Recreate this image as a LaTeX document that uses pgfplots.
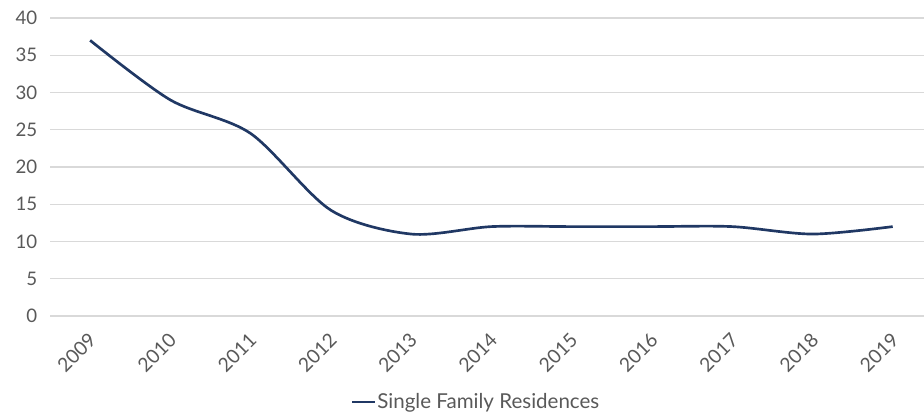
\documentclass[border=0pt]{standalone}
\usepackage{pgfplots}
\pgfplotsset{compat=1.18}
\usepackage{fontspec}
\setmainfont{Lato}
\definecolor{navy}{HTML}{203864}
\definecolor{txt}{HTML}{595959}
\definecolor{gridc}{HTML}{D9D9D9}
\begin{document}
\begin{tikzpicture}
\path[use as bounding box] (0,0) rectangle (693pt,311.25pt);
\begin{axis}[
    at={(37.5pt,74.25pt)}, anchor=south west,
    scale only axis,
    width=655.5pt, height=223.5pt,
    xmin=-0.5, xmax=10.39,
    ymin=0, ymax=40,
    ytick={0,5,...,40},
    xtick={0,...,10},
    xticklabels={2009,2010,2011,2012,2013,2014,2015,2016,2017,2018,2019},
    x tick label style={xshift=-2pt, yshift=-7pt, rotate=45, anchor=north east,
        font=\fontsize{14.5}{16}\selectfont},
    axis line style={draw=none},
    tick style={draw=none},
    ymajorgrids,
    grid style={gridc, line width=0.8pt},
    ticklabel style={text=txt},
    y tick label style={font=\fontsize{14}{16}\selectfont, xshift=-6pt},
    /pgf/number format/assume math mode=true,
    clip=false,
    legend style={at={(0.487,-0.289)}, anchor=center, draw=none, fill=none,
        font=\fontsize{15.4}{17}\selectfont, text=txt,
        nodes={inner xsep=1pt}},
    legend image code/.code={\draw[#1] (0pt,0pt) -- (17pt,0pt);},
    legend image post style={line width=2pt},
    legend cell align=left,
]
\addplot[navy, line width=2pt, smooth] coordinates {
    (0,37) (1,29) (2,24.5) (3,14.2) (4,11) (5,12) (6,12) (7,12) (8,12) (9,11) (10,12)
};
\addlegendentry{Single Family Residences}
\end{axis}
\end{tikzpicture}
\end{document}
